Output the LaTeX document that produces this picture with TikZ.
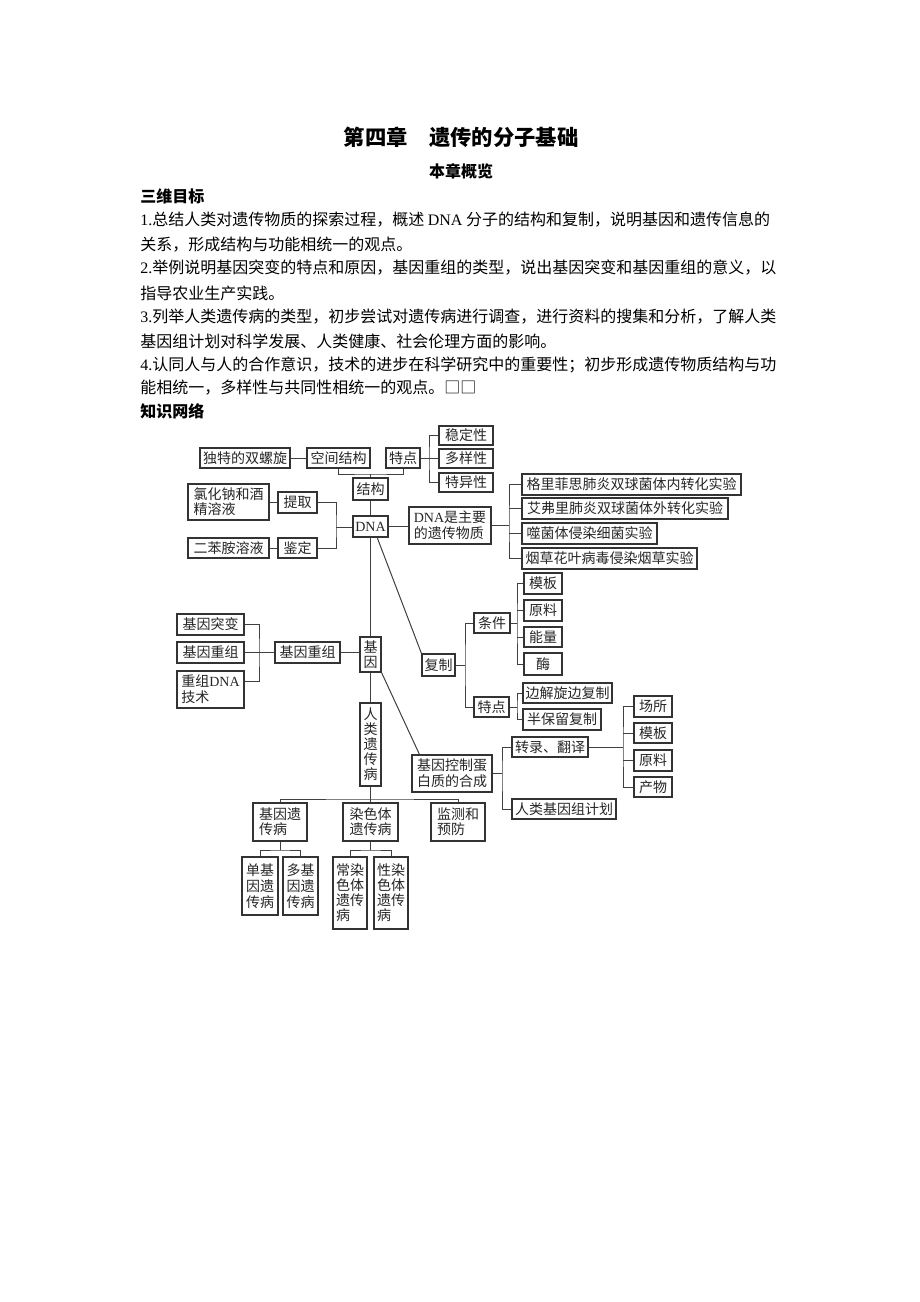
\documentclass[tikz,border=0pt]{standalone}
\usepackage{fontspec}
\setmainfont{Noto Sans CJK SC}
\newfontfamily\lat{Liberation Serif}
\XeTeXlinebreaklocale "zh"
\XeTeXlinebreakskip=0pt plus 2pt minus 0.4pt
\newcommand\ml[2]{\raisebox{0pt}[#1][0.9pt]{\vbox{#2}}}
\newcommand\bx[7][box]{\node[#1, minimum width={(#5-#3)*0.75pt}, minimum height={(#6-#4)*0.75pt}] (#2) at ({(#3+#5)/2},{(#4+#6)/2}) {#7};}
\begin{document}
\begin{tikzpicture}[x=0.75pt,y=-0.75pt,
  base/.style={draw=black!80, line width=0.8pt, inner sep=0pt, text=black!85,
    font=\fontsize{10.5}{11.6}\selectfont},
  box/.style={base, text height=8.6pt, text depth=0.9pt},
  mbox/.style={base},
  vb3/.style={mbox, font=\fontsize{10.5}{12}\selectfont},
  vb4/.style={mbox, font=\fontsize{10.5}{11.25}\selectfont},
  ln/.style={draw=black!75, line width=0.75pt},
  body/.style={anchor=west, inner sep=0pt, font=\fontsize{12}{12}\selectfont},
  full/.style={body, text width=481.5pt, align=justify}]
\fill[white] (0,0) rectangle (920,1302);
\useasboundingbox (0,0) rectangle (920,1302);

% ---------- header ----------
\node[font=\fontsize{16}{16}\selectfont\bfseries] (title) at (461,137) {第四章　遗传的分子基础};
\node[font=\fontsize{12}{12}\selectfont\bfseries] (ov) at (461,171) {本章概览};
\node[body, font=\fontsize{12}{12}\selectfont\bfseries] (swmb) at (140,196) {三维目标};
\node[full] (l1) at (140,220) {\noindent\parfillskip=0pt {\lat 1.}总结人类对遗传物质的探索过程，概述 {\lat DNA} 分子的结构和复制，说明基因和遗传信息的};
\node[body] (l2) at (140,245) {关系，形成结构与功能相统一的观点。};
\node[full] (l3) at (140,268) {\noindent\parfillskip=0pt {\lat 2.}举例说明基因突变的特点和原因，基因重组的类型，说出基因突变和基因重组的意义，以};
\node[body] (l4) at (140,293) {指导农业生产实践。};
\node[full] (l5) at (140,317) {\noindent\parfillskip=0pt {\lat 3.}列举人类遗传病的类型，初步尝试对遗传病进行调查，进行资料的搜集和分析，了解人类};
\node[body] (l6) at (140,341) {基因组计划对科学发展、人类健康、社会伦理方面的影响。};
\node[full] (l7) at (140,365) {\noindent\parfillskip=0pt {\lat 4.}认同人与人的合作意识，技术的进步在科学研究中的重要性；初步形成遗传物质结构与功};
\node[body] (l8) at (140,388) {能相统一，多样性与共同性相统一的观点。□□};
\node[body, font=\fontsize{12}{12}\selectfont\bfseries] (zswl) at (140,411) {知识网络};

% ---------- boxes ----------
\bx{dsl}{200}{448}{290}{468}{独特的双螺旋}
\bx{kjjg}{307}{448}{370}{468}{空间结构}
\bx{td1}{386}{448}{420}{468}{特点}
\bx{wdx}{439}{426}{493}{445}{稳定性}
\bx{dyx}{439}{449}{493}{468}{多样性}
\bx{tyx}{439}{473}{493}{492}{特异性}
\bx{jg}{353}{478}{388}{500}{结构}
\bx[mbox]{lhn}{188}{484}{269}{520}{\ml{20.2pt}{\hbox{氯化钠和酒}\hbox{精溶液}}}
\bx{tq}{278}{492}{317}{513}{提取}
\bx{ebj}{188}{538}{269}{558}{二苯胺溶液}
\bx{jd}{278}{538}{317}{558}{鉴定}
\bx{dna}{353}{516}{388}{537}{\lat DNA}
\bx[mbox]{dnaz}{409}{507}{491}{544}{\ml{20.2pt}{\hbox{{\lat DNA}是主要}\hbox{的遗传物质}}}
\bx{e1}{522}{474}{741}{495}{格里菲思肺炎双球菌体内转化实验}
\bx{e2}{522}{498}{728}{519}{艾弗里肺炎双球菌体外转化实验}
\bx{e3}{522}{523}{657}{544}{噬菌体侵染细菌实验}
\bx{e4}{522}{548}{697}{569}{烟草花叶病毒侵染烟草实验}
\bx{mb1}{524}{573}{562}{594}{模板}
\bx{yl1}{524}{600}{562}{621}{原料}
\bx{nl}{524}{627}{562}{647}{能量}
\bx{mei}{524}{653}{562}{675}{酶}
\bx{tj}{474}{613}{510}{633}{条件}
\bx{fz}{422}{654}{455}{676}{复制}
\bx{td2}{474}{697}{509}{717}{特点}
\bx{bj}{523}{683}{612}{703}{边解旋边复制}
\bx{bb}{523}{709}{601}{730}{半保留复制}
\bx{zl}{512}{737}{588}{757}{转录、翻译}
\bx{cs}{634}{696}{672}{717}{场所}
\bx{mb2}{634}{723}{672}{743}{模板}
\bx{yl2}{634}{750}{672}{771}{原料}
\bx{cw}{634}{777}{672}{797}{产物}
\bx[mbox]{kz}{412}{755}{492}{792}{\ml{20.2pt}{\hbox{基因控制蛋}\hbox{白质的合成}}}
\bx{rjh}{512}{799}{616}{819}{人类基因组计划}
\bx{tb}{177}{614}{244}{635}{基因突变}
\bx{cz1}{177}{642}{244}{663}{基因重组}
\bx[mbox]{cdna}{177}{671}{244}{708}{\ml{20.2pt}{\hbox{重组{\lat DNA}}\hbox{技术}}}
\bx{cz2}{275}{642}{340}{663}{基因重组}
\bx[vb4]{jy}{360}{637}{381}{672}{\ml{19.85pt}{\hbox{基}\hbox{因}}}
\bx[vb4]{rl}{360}{703}{381}{786}{\ml{53.6pt}{\hbox{人}\hbox{类}\hbox{遗}\hbox{传}\hbox{病}}}
\bx[mbox]{jyb}{253}{803}{307}{841}{\ml{20.2pt}{\hbox{基因遗}\hbox{传病}}}
\bx[mbox]{rst}{343}{803}{398}{841}{\ml{20.2pt}{\hbox{染色体}\hbox{遗传病}}}
\bx[mbox]{jc}{431}{803}{485}{841}{\ml{20.2pt}{\hbox{监测和}\hbox{预防}}}
\bx[vb3]{dj}{242}{857}{278}{915}{\ml{32.6pt}{\hbox{单基}\hbox{因遗}\hbox{传病}}}
\bx[vb3]{dj2}{283}{857}{318}{915}{\ml{32.6pt}{\hbox{多基}\hbox{因遗}\hbox{传病}}}
\bx[vb4]{cr}{333}{857}{367}{929}{\ml{42.35pt}{\hbox{常染}\hbox{色体}\hbox{遗传}\hbox{病}}}
\bx[vb4]{xr}{374}{857}{408}{929}{\ml{42.35pt}{\hbox{性染}\hbox{色体}\hbox{遗传}\hbox{病}}}

% ---------- junction points ----------
\coordinate (j1) at (370.5,474);
\coordinate (bk1) at (429,458);
\coordinate (bk2) at (336,527);
\coordinate (bk3) at (509,526);
\coordinate (bk4) at (259,652.5);
\coordinate (bk5) at (465,665);
\coordinate (bk6) at (517,623);
\coordinate (bk7) at (517,707);
\coordinate (bk8) at (502,773.5);
\coordinate (bk9) at (623,747);
\coordinate (bk10) at (370.5,799);
\coordinate (bk11) at (280,850);
\coordinate (bk12) at (370.5,850);

% ---------- connectors ----------
\draw[ln] (dsl.east) -- (kjjg.west);
\draw[ln] (kjjg.south) |- (j1) -| (td1.south);
\draw[ln] (j1) -- (jg.north);
\draw[ln] (wdx.west) -| (bk1) |- (tyx.west);
\draw[ln] (td1.east) -- (td1.east -| dyx.west);
\draw[ln] (jg.south) -- (dna.north);
\draw[ln] (lhn.east) -- (lhn.east -| tq.west);
\draw[ln] (ebj.east) -- (jd.west);
\draw[ln] (tq.east) -| (bk2) |- (jd.east);
\draw[ln] (bk2) -- (bk2 -| dna.west);
\draw[ln] (dna.east) -- (dna.east -| dnaz.west);
\draw[ln] (e1.west) -| (bk3) |- (e4.west);
\draw[ln] (dnaz.east) -- (dnaz.east -| bk3);
\draw[ln] (e2.west) -- (e2.west -| bk3);
\draw[ln] (e3.west) -- (e3.west -| bk3);
\draw[ln] (dna.south) -- (jy.north);
\draw[ln] ([xshift=5pt]dna.south) -- (fz.north west);
\draw[ln] (cz2.east) -- (cz2.east -| jy.west);
\draw[ln] (tb.east) -| (bk4) |- ([yshift=6pt]cdna.east);
\draw[ln] (cz1.east) -- (cz2.west);
\draw[ln] (jy.south) -- (rl.north);
\draw[ln] (jy.south east) -- ([xshift=6pt]kz.north west);
\draw[ln] (tj.west) -| (bk5) |- (td2.west);
\draw[ln] (fz.east) -- (bk5);
\draw[ln] (mb1.west) -| (bk6) |- (mei.west);
\draw[ln] (tj.east) -- (bk6);
\draw[ln] (yl1.west) -- (yl1.west -| bk6);
\draw[ln] (nl.west) -- (nl.west -| bk6);
\draw[ln] (bj.west) -| (bk7) |- (bb.west);
\draw[ln] (td2.east) -- (bk7);
\draw[ln] (zl.west) -| (bk8) |- (rjh.west);
\draw[ln] (kz.east) -- (bk8);
\draw[ln] (cs.west) -| (bk9) |- (cw.west);
\draw[ln] (zl.east) -- (bk9);
\draw[ln] (mb2.west) -- (mb2.west -| bk9);
\draw[ln] (yl2.west) -- (yl2.west -| bk9);
\draw[ln] (jyb.north) |- (bk10) -| (jc.north);
\draw[ln] (rl.south) -- (rst.north);
\draw[ln] (jyb.south) -- (bk11);
\draw[ln] (dj.north) |- (bk11) -| (dj2.north);
\draw[ln] (rst.south) -- (bk12);
\draw[ln] (cr.north) |- (bk12) -| (xr.north);
\end{tikzpicture}
\end{document}
